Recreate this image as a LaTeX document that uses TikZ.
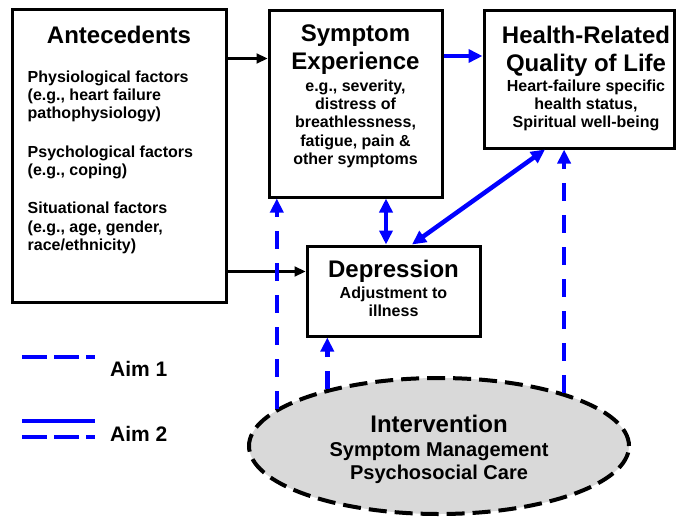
\documentclass[tikz,border=0pt]{standalone}
\usepackage{fontspec}
\setmainfont{Liberation Sans}
\usetikzlibrary{shapes.geometric,arrows.meta}

\definecolor{aimblue}{RGB}{0,0,255}
\definecolor{intgray}{RGB}{217,217,217}

\tikzset{
  box/.style={draw, line width=3pt, inner sep=0pt},
  boxtitle/.style={font=\fontsize{24}{27.5}\selectfont\bfseries, inner sep=0pt, align=center},
  boxtext/.style={font=\fontsize{16}{18.3}\selectfont\bfseries, inner sep=0pt, align=center},
  flow/.style={line width=2.2pt, -{Triangle[length=11pt,width=10pt]}},
  aimtwo/.style={aimblue, line width=4.5pt, -{Triangle[length=14pt,width=13pt]}},
  aimboth/.style={aimblue, line width=4.5pt, {Triangle[length=14pt,width=13pt]}-{Triangle[length=14pt,width=13pt]}},
  aimone/.style={aimblue, line width=4.5pt, dash pattern=on 18pt off 14pt, -{Triangle[length=14pt,width=13pt]}},
  aimlabel/.style={font=\fontsize{21}{24}\selectfont\bfseries, inner sep=0pt}
}

\begin{document}
\begin{tikzpicture}[x=1pt,y=-1pt]
  \useasboundingbox (0,0) rectangle (676,516);

  % the four boxes and the intervention
  \node[box, minimum width=214, minimum height=292] (ante) at (119,156) {};
  \node[box, minimum width=173, minimum height=186] (symp) at (355.5,104) {};
  \node[box, minimum width=190, minimum height=137] (hrql) at (579,79.5) {};
  \node[box, minimum width=173, minimum height=90] (depr) at (393.5,291) {};
  \node[ellipse, draw, line width=4pt, dash pattern=on 18pt off 8pt, fill=intgray,
        minimum width=380, minimum height=136] (interv) at (439,446) {};

  % texts
  \node[boxtitle, anchor=north] (antetitle) at ([yshift=-17.5]ante.north) {Antecedents};
  \node[boxtext, anchor=north west, align=left] (antetext) at ([xshift=17,yshift=-62]ante.north west)
    {Physiological factors\\(e.g., heart failure\\pathophysiology)\\[20pt]
     Psychological factors\\(e.g., coping)\\[20pt]
     Situational factors\\(e.g., age, gender,\\race/ethnicity)};

  \node[boxtitle, anchor=north] (symptitle) at ([yshift=-15.5]symp.north) {Symptom\\Experience};
  \node[boxtext, anchor=north] (symptext) at ([yshift=-70]symp.north)
    {e.g., severity,\\distress of\\breathlessness,\\fatigue, pain \&\\other symptoms};

  \node[boxtitle, anchor=north] (hrqltitle) at ([xshift=7,yshift=-16.5]hrql.north) {Health-Related\\Quality of Life};
  \node[boxtext, anchor=north] (hrqltext) at ([xshift=7,yshift=-70]hrql.north)
    {Heart-failure specific\\health status,\\Spiritual well-being};

  \node[boxtitle, anchor=north] (deprtitle) at ([yshift=-15]depr.north) {Depression};
  \node[boxtext, anchor=north] (deprtext) at ([yshift=-42]depr.north) {Adjustment to\\illness};

  \node[boxtitle, anchor=north] (intervtitle) at ([yshift=31]interv.center) {Intervention};
  \node[boxtitle, anchor=north, font=\fontsize{20}{23}\selectfont\bfseries] (intervtext) at ([yshift=3.5]interv.center)
    {Symptom Management\\Psychosocial Care};

  % antecedents
  \draw[flow] ([yshift=-50]ante.north east) -- ([yshift=-50]ante.north east -| symp.west);
  \draw[flow] ([yshift=32]ante.south east) -- ([yshift=32]ante.south east -| depr.west);

  % aim 2
  \draw[aimtwo] ([yshift=-46.5]symp.north east) -- ([yshift=-46.5]symp.north east -| hrql.west);
  \draw[aimboth] ([xshift=118.5]symp.south west) -- ([xshift=118.5]symp.south west |- depr.north);
  \draw[aimboth] ([xshift=62.5]hrql.south west) -- ([xshift=106.5]depr.north west);

  % aim 1
  \draw[aimone] (interv.167.4) -- (interv.167.4 |- symp.south);
  \draw[aimone] (interv.153.3) -- (interv.153.3 |- depr.south);
  \draw[aimone] (interv.23.7) -- (interv.23.7 |- hrql.south);

  % legend
  \coordinate (oneA) at (22,357);
  \coordinate (oneB) at (95,357);
  \coordinate (twoA) at (22,421);
  \coordinate (twoB) at (95,421);
  \coordinate (twoC) at (22,437);
  \coordinate (twoD) at (95,437);
  \draw[aimblue, line width=4.3pt, dash pattern=on 25pt off 7pt] (oneA) -- (oneB);
  \draw[aimblue, line width=4.3pt] (twoA) -- (twoB);
  \draw[aimblue, line width=4.3pt, dash pattern=on 25pt off 7pt] (twoC) -- (twoD);
  \node[aimlabel, anchor=base west] (aimone) at (110,376) {Aim 1};
  \node[aimlabel, anchor=base west] (aimtwo) at (110,441) {Aim 2};
\end{tikzpicture}
\end{document}
